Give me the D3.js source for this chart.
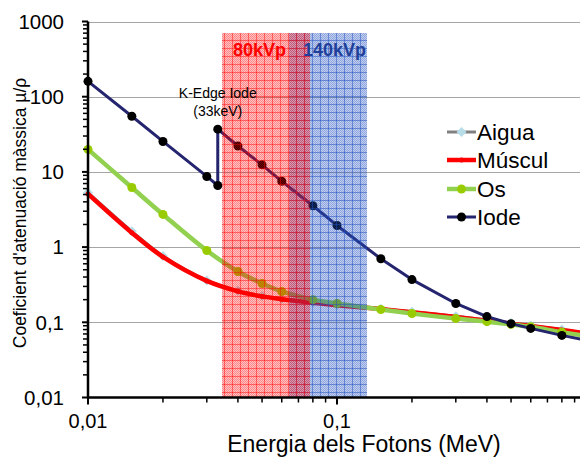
<!DOCTYPE html>
<html>
<head>
<meta charset="utf-8">
<script src="https://cdn.jsdelivr.net/npm/d3@7"></script>
<style>
  html, body { margin: 0; padding: 0; background: #fff; }
  svg { display: block; font-family: "Liberation Sans", Arial, sans-serif; }
</style>
</head>
<body>
<svg id="chart" width="580" height="462"></svg>
<script>
// Data
const energies = [0.01, 0.015, 0.02, 0.03, 0.04, 0.05, 0.06, 0.08, 0.1, 0.15, 0.2, 0.3, 0.4, 0.5, 0.6, 0.8, 1];
const aigua  = [5.3, 1.62, 0.76, 0.36, 0.262, 0.224, 0.205, 0.184, 0.171, 0.152, 0.138, 0.12, 0.107, 0.098, 0.091, 0.080, 0.072];
const muscul = [5.1, 1.55, 0.74, 0.355, 0.258, 0.221, 0.203, 0.182, 0.169, 0.150, 0.136, 0.118, 0.105, 0.096, 0.089, 0.079, 0.071];
const os     = [19.9, 6.2, 2.72, 0.90, 0.474, 0.328, 0.257, 0.20, 0.178, 0.148, 0.131, 0.112, 0.102, 0.094, 0.087, 0.074, 0.066];

// Iodine has the K-edge jump at 33 keV
const iodeEnergies = [0.01, 0.015, 0.02, 0.03, 0.0332, 0.0332, 0.04, 0.05, 0.06, 0.08, 0.1, 0.15, 0.2, 0.3, 0.4, 0.5, 0.6, 0.8, 1];
const iode = [160, 55, 25.4, 8.7, 6.6, 37, 22.1, 12.4, 7.5, 3.55, 1.94, 0.70, 0.37, 0.178, 0.119, 0.096, 0.083, 0.067, 0.058];

const seriesNames = ["Aigua", "Múscul", "Os", "Iode"];

const yTickValues = [0.01, 0.1, 1, 10, 100, 1000];
const yTickLabels = ["0,01", "0,1", "1", "10", "100", "1000"];
const xTickValues = [0.01, 0.1, 1];
const xTickLabels = ["0,01", "0,1", "1"];

// kVp bands: [from, to] in MeV, top value
const bandNames = ["80kVp", "140kVp"];
const bandFrom = [0.0345, 0.0641];
const bandTo = [0.0779, 0.132];
const bandTop = 700;

const kEdgeEnergy = 0.0332;
const kEdgeLabel = ["K-Edge Iode", "(33keV)"];

const xTitle = "Energia dels Fotons (MeV)";
const yTitle = "Coeficient d'atenuació màssica µ/ρ";

// Layout
const svg = d3.select("#chart");
const x = d3.scaleLog().domain([0.01, 1]).range([88, 586]);
const y = d3.scaleLog().domain([0.01, 1000]).range([397.5, 21.5]);

const defs = svg.append("defs");

function makePattern(id, color, base, dots, lines) {
    const p = defs.append("pattern")
        .attr("id", id)
        .attr("patternUnits", "userSpaceOnUse")
        .attr("width", 8)
        .attr("height", 8);
    p.append("rect").attr("width", 8).attr("height", 8)
        .attr("fill", color).attr("fill-opacity", base);
    for (let i = 0; i < 8; i++) {
        for (let j = 0; j < 8; j++) {
            if ((i + j) % 2 === 0) {
                p.append("rect").attr("x", i).attr("y", j).attr("width", 1).attr("height", 1)
                    .attr("fill", color).attr("fill-opacity", dots);
            }
        }
    }
    p.append("rect").attr("x", 0).attr("y", 0).attr("width", 8).attr("height", 1)
        .attr("fill", color).attr("fill-opacity", lines);
    p.append("rect").attr("x", 0).attr("y", 0).attr("width", 1).attr("height", 8)
        .attr("fill", color).attr("fill-opacity", lines);
}
makePattern("redHatch", "#ff0000", 0.24, 0.3, 0.45);
makePattern("blueHatch", "#1f4fbf", 0.28, 0.3, 0.5);

// Gridlines
svg.append("g")
    .selectAll("line")
    .data(yTickValues.filter(v => v > 0.01))
    .enter()
    .append("line")
    .attr("x1", x(0.01))
    .attr("x2", 586)
    .attr("y1", d => Math.round(y(d)) + 0.5)
    .attr("y2", d => Math.round(y(d)) + 0.5)
    .attr("stroke", "#a6a6a6")
    .attr("stroke-width", 1);

// Series
const smooth = d3.line()
    .x(d => x(d[0]))
    .y(d => y(d[1]))
    .curve(d3.curveCatmullRom);

const straight = d3.line()
    .x(d => x(d[0]))
    .y(d => y(d[1]));

const series = [
    { name: "Aigua", xs: energies, ys: aigua, color: "#808080", width: 3, marker: "diamond", mfill: "#b7dee8", msize: 5, line: smooth },
    { name: "Múscul", xs: energies, ys: muscul, color: "#ff0000", width: 4.5, marker: "circle", mfill: "#ff0000", msize: 2.5, line: smooth },
    { name: "Os", xs: energies, ys: os, color: "#92d050", width: 4.5, marker: "circle", mfill: "#99cc00", msize: 4.5, line: smooth },
    { name: "Iode", xs: iodeEnergies, ys: iode, color: "#25256f", width: 3, marker: "circle", mfill: "#000000", msize: 4.5, line: straight }
];

function drawMarker(g, s, cx, cy) {
    if (s.marker === "diamond") {
        const r = s.msize;
        g.append("path")
            .attr("d", `M${cx},${cy - r}L${cx + r},${cy}L${cx},${cy + r}L${cx - r},${cy}Z`)
            .attr("fill", s.mfill);
    } else {
        g.append("circle").attr("cx", cx).attr("cy", cy).attr("r", s.msize).attr("fill", s.mfill);
    }
}

const plot = svg.append("g");
series.forEach(s => {
    const pts = s.xs.map((e, i) => [e, s.ys[i]]);
    const g = plot.append("g");
    g.append("path")
        .attr("d", s.line(pts))
        .attr("fill", "none")
        .attr("stroke", s.color)
        .attr("stroke-width", s.width)
        .attr("stroke-linejoin", "round");
    pts.forEach(p => drawMarker(g, s, x(p[0]), y(p[1])));
});

// kVp bands drawn over the data (blue first, red on top)
const bandFills = ["url(#redHatch)", "url(#blueHatch)"];
[1, 0].forEach(i => {
    svg.append("rect")
        .attr("x", Math.round(x(bandFrom[i])))
        .attr("y", Math.round(y(bandTop)))
        .attr("width", Math.round(x(bandTo[i])) - Math.round(x(bandFrom[i])))
        .attr("height", Math.round(y(0.01)) - Math.round(y(bandTop)))
        .attr("fill", bandFills[i]);
});

const bandColors = ["#ff0000", "#1f3f9a"];
bandNames.forEach((name, i) => {
    svg.append("text")
        .attr("x", i === 0 ? 233 : 303)
        .attr("y", 56)
        .attr("font-size", "18px")
        .attr("font-weight", "bold")
        .attr("fill", bandColors[i])
        .text(name);
});

// K-edge annotation
kEdgeLabel.forEach((t, i) => {
    svg.append("text")
        .attr("x", x(kEdgeEnergy))
        .attr("y", 98 + i * 18)
        .attr("text-anchor", "middle")
        .attr("font-size", "14px")
        .attr("fill", "#000")
        .text(t);
});

// Axes
const axes = svg.append("g").attr("stroke", "#000");
const x0 = x(0.01), yBottom = y(0.01);

// y minor and major ticks
y.ticks().forEach(v => {
    const isMajor = yTickValues.some(m => Math.abs(m - v) / m < 1e-9);
    axes.append("line")
        .attr("x1", x0 - (isMajor ? 6 : 5))
        .attr("x2", x0)
        .attr("y1", y(v))
        .attr("y2", y(v))
        .attr("stroke-width", isMajor ? 2 : 1.5);
});

// x minor and major ticks
x.ticks().forEach(v => {
    const isMajor = xTickValues.some(m => Math.abs(m - v) / m < 1e-9);
    axes.append("line")
        .attr("x1", x(v))
        .attr("x2", x(v))
        .attr("y1", yBottom)
        .attr("y2", yBottom + (isMajor ? 7 : 5))
        .attr("stroke-width", isMajor ? 2 : 1.5);
});

axes.append("line")
    .attr("x1", x0).attr("x2", x0)
    .attr("y1", y(1000)).attr("y2", yBottom + 1)
    .attr("stroke-width", 2.5);
axes.append("line")
    .attr("x1", x0 - 1).attr("x2", 586)
    .attr("y1", yBottom).attr("y2", yBottom)
    .attr("stroke-width", 2.5);

// Tick labels
svg.append("g")
    .selectAll("text")
    .data(yTickValues)
    .enter()
    .append("text")
    .attr("x", 64)
    .attr("y", d => y(d))
    .attr("dy", "0.36em")
    .attr("text-anchor", "end")
    .attr("font-size", "20.5px")
    .text((d, i) => yTickLabels[i]);

svg.append("g")
    .selectAll("text")
    .data(xTickValues)
    .enter()
    .append("text")
    .attr("x", d => x(d))
    .attr("y", 428)
    .attr("text-anchor", "middle")
    .attr("font-size", "20px")
    .text((d, i) => xTickLabels[i]);

// Axis titles
svg.append("text")
    .attr("x", 364)
    .attr("y", 452)
    .attr("text-anchor", "middle")
    .attr("font-size", "23px")
    .text(xTitle);

svg.append("text")
    .attr("transform", "translate(26, 213) rotate(-90)")
    .attr("text-anchor", "middle")
    .attr("font-size", "17.5px")
    .text(yTitle);

// Legend
const legendY = [132, 160, 189, 217];
series.forEach((s, i) => {
    const g = svg.append("g");
    g.append("line")
        .attr("x1", 447).attr("x2", 476)
        .attr("y1", legendY[i]).attr("y2", legendY[i])
        .attr("stroke", s.color)
        .attr("stroke-width", s.width);
    drawMarker(g, s, 461.5, legendY[i]);
    g.append("text")
        .attr("x", 477)
        .attr("y", legendY[i])
        .attr("dy", "0.36em")
        .attr("font-size", "22.5px")
        .text(seriesNames[i]);
});
</script>
</body>
</html>
